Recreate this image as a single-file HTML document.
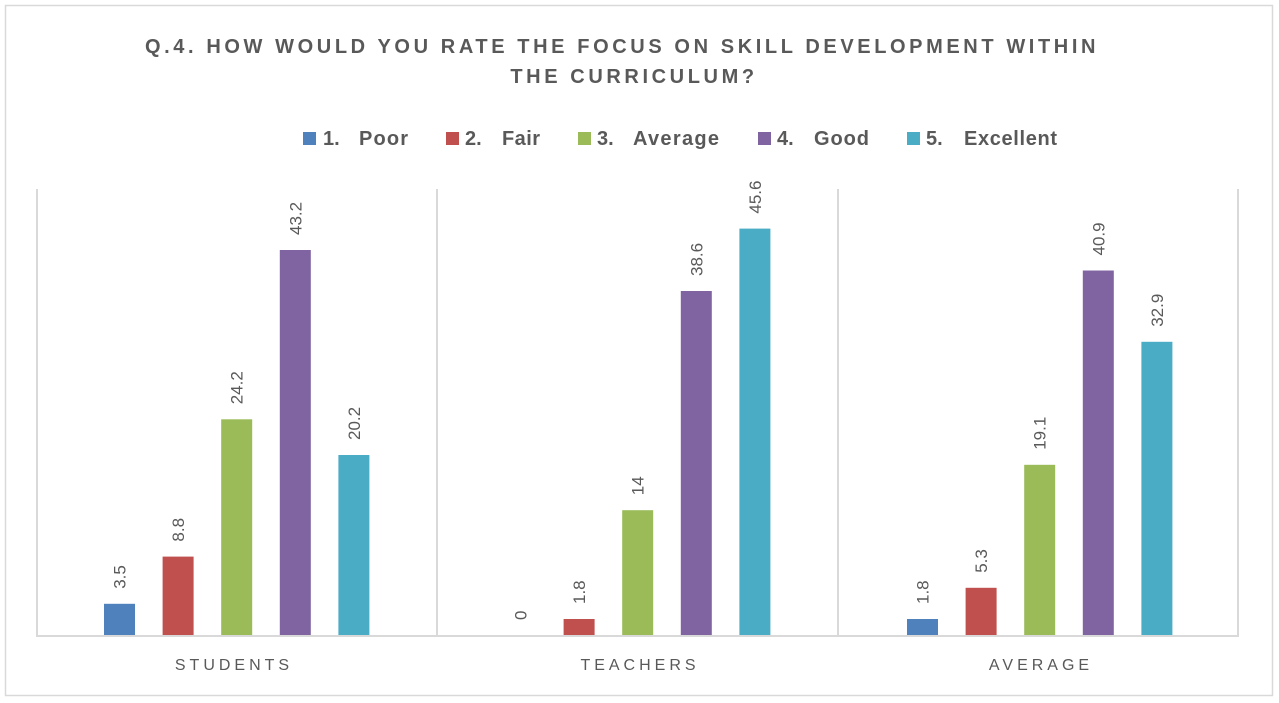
<!DOCTYPE html>
<html><head><meta charset="utf-8"><style>
html,body{margin:0;padding:0;background:#fff;}
svg{display:block;}
</style></head><body>
<svg width="1279" height="703" xmlns="http://www.w3.org/2000/svg" font-family="Liberation Sans, sans-serif">
<rect x="5.5" y="5.5" width="1267" height="690" fill="#fff" stroke="#d9d9d9" stroke-width="1.5"/>
<text x="622" y="53" text-anchor="middle" font-size="20" font-weight="bold" fill="#595959" letter-spacing="3.6">Q.4. HOW WOULD YOU RATE THE FOCUS ON SKILL DEVELOPMENT WITHIN</text>
<text x="634" y="83" text-anchor="middle" font-size="20" font-weight="bold" fill="#595959" letter-spacing="3.6">THE CURRICULUM?</text>
<g font-size="20" font-weight="bold" fill="#595959">
<rect x="303" y="132" width="13" height="13" fill="#4F81BD"/><text x="323" y="145">1.</text><text x="359" y="145" textLength="49">Poor</text>
<rect x="446" y="132" width="13" height="13" fill="#C0504D"/><text x="465" y="145">2.</text><text x="502" y="145" textLength="38">Fair</text>
<rect x="578" y="132" width="13" height="13" fill="#9BBB59"/><text x="597" y="145">3.</text><text x="633" y="145" textLength="86">Average</text>
<rect x="758" y="132" width="13" height="13" fill="#8064A2"/><text x="777" y="145">4.</text><text x="814" y="145" textLength="55">Good</text>
<rect x="907" y="132" width="13" height="13" fill="#4BACC6"/><text x="926" y="145">5.</text><text x="964" y="145" textLength="93">Excellent</text>
</g>
<g stroke="#d9d9d9" stroke-width="2">
<line x1="37" y1="189" x2="37" y2="636"/>
<line x1="437" y1="189" x2="437" y2="636"/>
<line x1="838" y1="189" x2="838" y2="636"/>
<line x1="1238" y1="189" x2="1238" y2="636"/>
<line x1="36" y1="636" x2="1239" y2="636"/>
</g>
<g>
<rect x="104" y="603.8" width="31" height="31.2" fill="#4F81BD"/>
<rect x="162.6" y="556.6" width="31" height="78.4" fill="#C0504D"/>
<rect x="221.2" y="419.3" width="31" height="215.7" fill="#9BBB59"/>
<rect x="279.8" y="250" width="31" height="385" fill="#8064A2"/>
<rect x="338.4" y="455" width="31" height="180" fill="#4BACC6"/>
<rect x="563.6" y="619" width="31" height="16" fill="#C0504D"/>
<rect x="622.2" y="510.2" width="31" height="124.8" fill="#9BBB59"/>
<rect x="680.8" y="291" width="31" height="344" fill="#8064A2"/>
<rect x="739.4" y="228.6" width="31" height="406.4" fill="#4BACC6"/>
<rect x="907" y="619" width="31" height="16" fill="#4F81BD"/>
<rect x="965.6" y="587.8" width="31" height="47.2" fill="#C0504D"/>
<rect x="1024.2" y="464.8" width="31" height="170.2" fill="#9BBB59"/>
<rect x="1082.8" y="270.5" width="31" height="364.5" fill="#8064A2"/>
<rect x="1141.4" y="341.8" width="31" height="293.2" fill="#4BACC6"/>
</g>
<g font-size="17" fill="#595959">
<text transform="translate(125.5,588.8) rotate(-90)">3.5</text>
<text transform="translate(184.1,541.6) rotate(-90)">8.8</text>
<text transform="translate(242.7,404.3) rotate(-90)">24.2</text>
<text transform="translate(301.3,235) rotate(-90)">43.2</text>
<text transform="translate(359.9,440) rotate(-90)">20.2</text>
<text transform="translate(526.5,620) rotate(-90)">0</text>
<text transform="translate(585.1,604) rotate(-90)">1.8</text>
<text transform="translate(643.7,495.2) rotate(-90)">14</text>
<text transform="translate(702.3,276) rotate(-90)">38.6</text>
<text transform="translate(760.9,213.6) rotate(-90)">45.6</text>
<text transform="translate(928.5,604) rotate(-90)">1.8</text>
<text transform="translate(987.1,572.8) rotate(-90)">5.3</text>
<text transform="translate(1045.7,449.8) rotate(-90)">19.1</text>
<text transform="translate(1104.3,255.5) rotate(-90)">40.9</text>
<text transform="translate(1162.9,326.8) rotate(-90)">32.9</text>
</g>
<g font-size="16" fill="#595959" letter-spacing="4" text-anchor="middle">
<text x="234" y="670">STUDENTS</text>
<text x="640" y="670">TEACHERS</text>
<text x="1041" y="670">AVERAGE</text>
</g>
</svg>
</body></html>
